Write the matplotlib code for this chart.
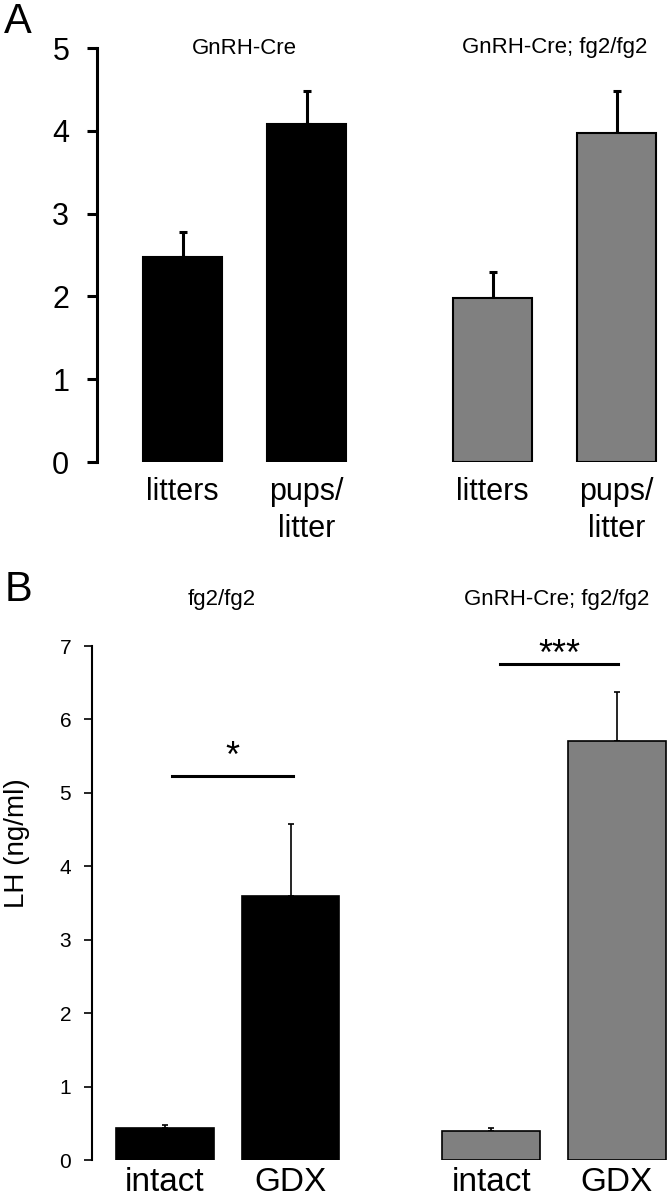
import numpy as np
import matplotlib
matplotlib.use("Agg")
import matplotlib.pyplot as plt
from matplotlib import font_manager

# --- data ---
# panel A: fertility
a_groups = ["GnRH-Cre", "GnRH-Cre; fg2/fg2"]
a_labels = ["litters", "pups/\nlitter", "litters", "pups/\nlitter"]
a_means = [2.48, 4.08, 1.98, 3.97]
a_sem = [0.30, 0.40, 0.31, 0.51]

# panel B: LH
b_groups = ["fg2/fg2", "GnRH-Cre; fg2/fg2"]
b_labels = ["intact", "GDX", "intact", "GDX"]
b_means = [0.43, 3.59, 0.40, 5.71]
b_sem = [0.05, 0.99, 0.04, 0.67]
b_sig = ["*", "***"]
b_sig_line = [5.23, 6.76]
b_sig_text = [5.35, 6.74]

colors = ["#000000", "#000000", "#808080", "#808080"]

names = {f.name for f in font_manager.fontManager.ttflist}
narrow = "Liberation Sans Narrow" if "Liberation Sans Narrow" in names else "Liberation Sans"
plt.rcParams['font.family'] = ['Liberation Sans', 'DejaVu Sans']

W, H = 667, 1199
fig = plt.figure(figsize=(W / 100, H / 100), dpi=100)


def px_axes(left, right, top, bottom):
    return fig.add_axes([left / W, 1 - bottom / H, (right - left) / W, (bottom - top) / H])


# ---------------- panel A ----------------
posA = [0, 1, 2.5, 3.5]
axA = px_axes(97, W, 48, 462)
axA.bar(posA, a_means, width=0.64, color=colors, edgecolor="black", linewidth=1.5, zorder=2)
axA.errorbar(posA, a_means, yerr=[np.zeros(4), a_sem], fmt="none", ecolor="black",
             elinewidth=2.2, capsize=3, capthick=2.2, zorder=1)
axA.set_xlim(-0.69, 3.907)
axA.set_ylim(0, 5)
for s in ["top", "right", "bottom"]:
    axA.spines[s].set_visible(False)
axA.spines["left"].set_linewidth(2.2)
axA.set_yticks(range(0, 6))
axA.tick_params(axis="y", length=7, width=2.2, labelsize=22, pad=13)
axA.set_xticks(posA)
axA.set_xticklabels(a_labels, fontsize=22, linespacing=1.3)
axA.tick_params(axis="x", length=0, pad=11)
axA.text(np.mean(posA[:2]), 5.0, a_groups[0], ha="center", va="center",
         fontsize=16, family=narrow)
axA.text(np.mean(posA[2:]), 5.0, a_groups[1], ha="center", va="center",
         fontsize=16, family=narrow)
fig.text(4 / W, 1 - 2 / H, "A", ha="left", va="top", fontsize=30)

# ---------------- panel B ----------------
posB = [0, 1, 2.6, 3.6]
axB = px_axes(92, W, 646, 1160)
axB.bar(posB, b_means, width=0.78, color=colors, edgecolor="black", linewidth=1.2, zorder=2)
axB.errorbar(posB, b_means, yerr=[np.zeros(4), b_sem], fmt="none", ecolor="black",
             elinewidth=1.2, capsize=2, capthick=1.2, zorder=1)
axB.set_xlim(-0.582, 4.0)
axB.set_ylim(0, 7)
for s in ["top", "right", "bottom"]:
    axB.spines[s].set_visible(False)
axB.spines["left"].set_linewidth(1.5)
axB.set_yticks(range(0, 8))
axB.tick_params(axis="y", length=6, width=1.2, labelsize=15, pad=9)
axB.set_xticks(posB)
axB.set_xticklabels(b_labels, fontsize=24)
axB.tick_params(axis="x", length=0, pad=5)
fig.text(17 / W, 1 - 843 / H, "LH (ng/ml)", rotation=90, ha="center", va="center",
         fontsize=20)

# significance brackets
spans = [(0.056, 1.02), (2.67, 3.61)]
for (x0, x1), yl, yt, s in zip(spans, b_sig_line, b_sig_text, b_sig):
    axB.plot([x0, x1], [yl, yl], color="black", lw=2.2, clip_on=False)
    axB.text((x0 + x1) / 2, yt, s, ha="center", va="baseline", fontsize=26, clip_on=False)

axB.text(0.45, 7.63, b_groups[0], ha="center", va="center",
         fontsize=16, family=narrow, clip_on=False)
axB.text(3.12, 7.63, b_groups[1], ha="center", va="center",
         fontsize=16, family=narrow, clip_on=False)
fig.text(5 / W, 1 - 570 / H, "B", ha="left", va="top", fontsize=30)

fig.savefig("out.png", dpi=100)
